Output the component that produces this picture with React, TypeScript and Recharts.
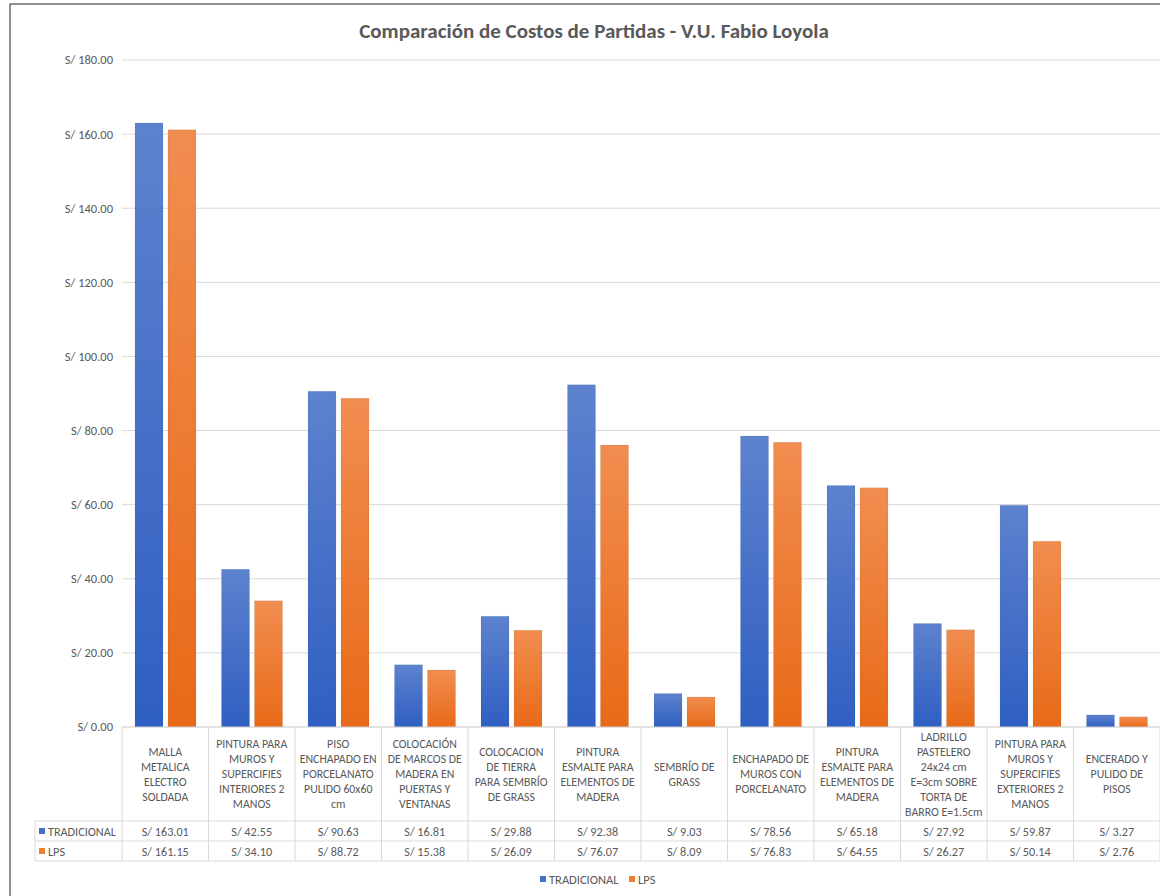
import type { JSX } from 'react'
import { BarChart, Bar, XAxis, YAxis, CartesianGrid, Customized } from 'recharts'

const categories: string[] = [
  'MALLA\nMETALICA\nELECTRO\nSOLDADA',
  'PINTURA PARA\nMUROS Y\nSUPERCIFIES\nINTERIORES 2\nMANOS',
  'PISO\nENCHAPADO EN\nPORCELANATO\nPULIDO 60x60\ncm',
  'COLOCACIÓN\nDE MARCOS DE\nMADERA EN\nPUERTAS Y\nVENTANAS',
  'COLOCACION\nDE TIERRA\nPARA SEMBRÍO\nDE GRASS',
  'PINTURA\nESMALTE PARA\nELEMENTOS DE\nMADERA',
  'SEMBRÍO DE\nGRASS',
  'ENCHAPADO DE\nMUROS CON\nPORCELANATO',
  'PINTURA\nESMALTE PARA\nELEMENTOS DE\nMADERA',
  'LADRILLO\nPASTELERO\n24x24 cm\nE=3cm SOBRE\nTORTA DE\nBARRO E=1.5cm',
  'PINTURA PARA\nMUROS Y\nSUPERCIFIES\nEXTERIORES 2\nMANOS',
  'ENCERADO Y\nPULIDO DE\nPISOS',
]

const tradicional: number[] = [163.01, 42.55, 90.63, 16.81, 29.88, 92.38, 9.03, 78.56, 65.18, 27.92, 59.87, 3.27]
const lps: number[] = [161.15, 34.1, 88.72, 15.38, 26.09, 76.07, 8.09, 76.83, 64.55, 26.27, 50.14, 2.76]

const yTicks: number[] = [0, 20, 40, 60, 80, 100, 120, 140, 160, 180]

const seriesNames = ['TRADICIONAL', 'LPS']

const data = categories.map((name, i) => ({ name, tradicional: tradicional[i], lps: lps[i] }))

const CHART_W = 1160
const CHART_H = 896
const PLOT_LEFT = 122
const FONT = "Carlito, Lato, 'Open Sans', sans-serif"
const TEXT = '#595959'
const LINE = '#d9d9d9'
const BLUE = '#4472C4'
const ORANGE = '#ED7D31'

const money = (v: number) => `S/ ${v.toFixed(2)}`

const cellW = (CHART_W - PLOT_LEFT) / categories.length

const TableTick = (props: any): JSX.Element => {
  const { x, y, payload } = props
  const idx = payload.index
  const lines = String(categories[idx]).split('\n')
  const left = x - cellW / 2
  const right = x + cellW / 2
  const lineH = 15
  const startY = y + 47 - ((lines.length - 1) * lineH) / 2
  return (
    <g>
      {idx === 0 && <line x1={left} y1={y} x2={left} y2={y + 134} stroke={LINE} />}
      <line x1={right} y1={y} x2={right} y2={y + 134} stroke={LINE} />
      <line x1={left} y1={y + 94} x2={right} y2={y + 94} stroke={LINE} />
      <line x1={left} y1={y + 114} x2={right} y2={y + 114} stroke={LINE} />
      <line x1={left} y1={y + 134} x2={right} y2={y + 134} stroke={LINE} />
      <text x={x} y={startY} textAnchor="middle" fill={TEXT} fontSize={11.8} fontFamily={FONT} dominantBaseline="central">
        {lines.map((l, i) => (
          <tspan key={i} x={x} y={startY + i * lineH}>{l}</tspan>
        ))}
      </text>
      <text x={x} y={y + 104} textAnchor="middle" fill={TEXT} fontSize={12.2} fontFamily={FONT} dominantBaseline="central">
        {money(tradicional[idx])}
      </text>
      <text x={x} y={y + 124} textAnchor="middle" fill={TEXT} fontSize={12.2} fontFamily={FONT} dominantBaseline="central">
        {money(lps[idx])}
      </text>
    </g>
  )
}

const Decorations = (): JSX.Element => {
  const top = 727
  return (
    <g>
      <rect x={10} y={4} width={1170} height={900} fill="none" stroke="#262626" strokeWidth={1} />
      <text x={594} y={31} textAnchor="middle" fill={TEXT} fontSize={21} fontWeight="bold" fontFamily={FONT} dominantBaseline="central">
        Comparación de Costos de Partidas - V.U. Fabio Loyola
      </text>
      {/* left column of the data table */}
      <line x1={35} y1={top + 94} x2={PLOT_LEFT} y2={top + 94} stroke={LINE} />
      <line x1={35} y1={top + 114} x2={PLOT_LEFT} y2={top + 114} stroke={LINE} />
      <line x1={35} y1={top + 134} x2={PLOT_LEFT} y2={top + 134} stroke={LINE} />
      <line x1={35} y1={top + 94} x2={35} y2={top + 134} stroke={LINE} />
      <rect x={39} y={top + 101} width={6} height={6} fill={BLUE} />
      <text x={48} y={top + 104} fill={TEXT} fontSize={12.2} fontFamily={FONT} dominantBaseline="central">{seriesNames[0]}</text>
      <rect x={39} y={top + 121} width={6} height={6} fill={ORANGE} />
      <text x={48} y={top + 124} fill={TEXT} fontSize={12.2} fontFamily={FONT} dominantBaseline="central">{seriesNames[1]}</text>
      {/* legend */}
      <rect x={540} y={876} width={6} height={6} fill={BLUE} />
      <text x={549} y={879} fill={TEXT} fontSize={12.5} fontFamily={FONT} dominantBaseline="central">{seriesNames[0]}</text>
      <rect x={629} y={876} width={6} height={6} fill={ORANGE} />
      <text x={638} y={879} fill={TEXT} fontSize={12.5} fontFamily={FONT} dominantBaseline="central">{seriesNames[1]}</text>
    </g>
  )
}

export default function App(): JSX.Element {
  return (
    <div style={{ position: 'absolute', left: 0, top: 0, width: CHART_W, height: CHART_H, background: '#fff' }}>
      <BarChart
        width={CHART_W}
        height={CHART_H}
        data={data}
        margin={{ top: 60, right: 0, left: 0, bottom: 29 }}
        barSize={28}
        barGap={5}
      >
        <defs>
          <linearGradient id="gBlue" x1="0" y1="0" x2="0" y2="1">
            <stop offset="0%" stopColor="#5D82CE" />
            <stop offset="100%" stopColor="#2F5FC2" />
          </linearGradient>
          <linearGradient id="gOrange" x1="0" y1="0" x2="0" y2="1">
            <stop offset="0%" stopColor="#F18D50" />
            <stop offset="100%" stopColor="#E86A18" />
          </linearGradient>
        </defs>
        <CartesianGrid vertical={false} stroke={LINE} />
        <XAxis
          dataKey="name"
          height={140}
          interval={0}
          tickLine={false}
          tickSize={0}
          tickMargin={0}
          axisLine={{ stroke: LINE }}
          tick={<TableTick />}
        />
        <YAxis
          width={PLOT_LEFT}
          domain={[0, 180]}
          ticks={yTicks}
          tickFormatter={money}
          axisLine={false}
          tickLine={false}
          tickSize={0}
          tickMargin={9}
          tick={{ fill: TEXT, fontSize: 12.5, fontFamily: FONT }}
        />
        <Bar dataKey="tradicional" name={seriesNames[0]} fill="url(#gBlue)" stroke="rgba(0,0,0,0.06)" isAnimationActive={false} />
        <Bar dataKey="lps" name={seriesNames[1]} fill="url(#gOrange)" stroke="rgba(0,0,0,0.06)" isAnimationActive={false} />
        <Customized component={<Decorations />} />
      </BarChart>
    </div>
  )
}
